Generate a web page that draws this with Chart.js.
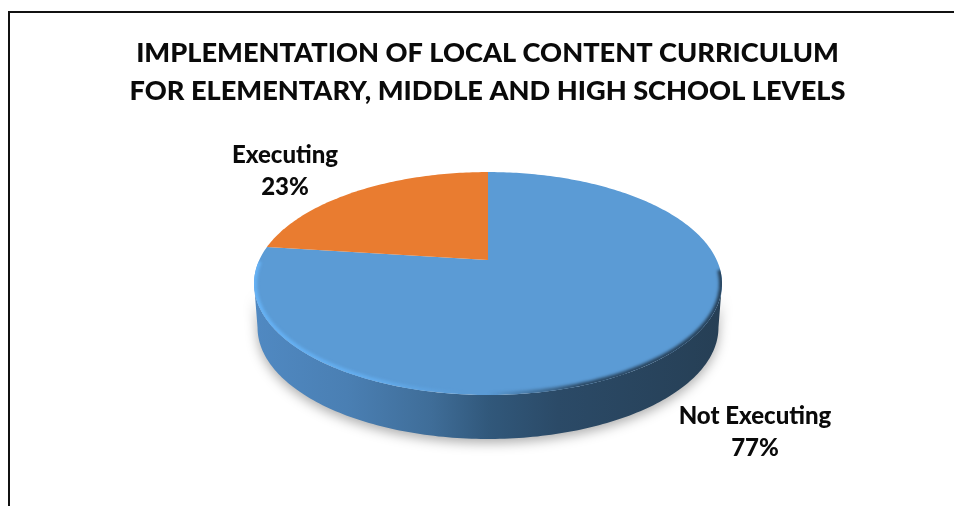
<!DOCTYPE html>
<html>
<head>
<meta charset="utf-8">
<title>Local content curriculum</title>
<script src="https://cdn.jsdelivr.net/npm/chart.js@4/dist/chart.umd.js"></script>
<style>
  html, body { margin: 0; padding: 0; background: #fff; overflow: hidden; }
  #wrap { position: relative; width: 954px; height: 506px; }
  #frame { position: absolute; left: 8px; top: 11px; right: 0; bottom: 0; border-left: 2px solid #111; border-top: 2px solid #111; }
  canvas { position: absolute; left: 0; top: 0; }
</style>
</head>
<body>
<div id="wrap">
  <div id="frame"></div>
  <canvas id="pieChart" width="954" height="506"></canvas>
</div>
<script>
var categories = ['Not Executing', 'Executing'];
var shares = [77, 23];
var sliceColors = ['#5B9BD5', '#E97C30'];
var titleLines = [
  'IMPLEMENTATION OF LOCAL CONTENT CURRICULUM',
  'FOR ELEMENTARY, MIDDLE AND HIGH SCHOOL LEVELS'
];

// tilted disc: apex position, plane radii, perspective strength, wall height
var disc = { cx: 488, cy: 260, a: 228.7, b: 106.5, k: 0.211, depth: 44 };
var labelAnchors = [{ x: 755, y: 416 }, { x: 285, y: 155 }];

// project a point of the unit disc onto the screen
function project(u, v, drop, shrink) {
  var w = 1 - disc.k * v;
  return {
    x: disc.cx + disc.a * u / w * (shrink || 1),
    y: disc.cy + disc.b * v / w + (drop || 0)
  };
}

function traceArc(ctx, from, to, radius, drop, shrink, moveFirst) {
  var steps = Math.max(2, Math.ceil(Math.abs(to - from) * 60));
  for (var i = 0; i <= steps; i++) {
    var t = from + (to - from) * i / steps;
    var p = project(radius * Math.cos(t), radius * Math.sin(t), drop, shrink);
    if (i === 0 && moveFirst) ctx.moveTo(p.x, p.y);
    else ctx.lineTo(p.x, p.y);
  }
}

var tiltedPie = {
  id: 'tiltedPie',
  beforeDatasetDraw: function(chart) {
    var ctx = chart.ctx;
    var arcs = chart.getDatasetMeta(0).data;
    var edge = Math.asin(disc.k);

    // wall under the front edge, with its soft drop shadow
    var wall = ctx.createLinearGradient(254, 0, 722, 0);
    wall.addColorStop(0, '#5089c2');
    wall.addColorStop(0.2, '#4a7fb3');
    wall.addColorStop(0.38, '#3f6d98');
    wall.addColorStop(0.5, '#31587b');
    wall.addColorStop(0.65, '#2b4a67');
    wall.addColorStop(1, '#263f55');
    ctx.save();
    ctx.beginPath();
    traceArc(ctx, edge, Math.PI - edge, 1, 0, 1, true);
    traceArc(ctx, Math.PI - edge, edge, 1, disc.depth, 0.985, false);
    ctx.closePath();
    ctx.shadowColor = 'rgba(0,0,0,0.32)';
    ctx.shadowBlur = 12;
    ctx.shadowOffsetY = 4;
    ctx.fillStyle = wall;
    ctx.fill();
    ctx.restore();

    // top face, one path per slice from the angles the controller computed
    arcs.forEach(function(arc) {
      var props = arc.getProps(['startAngle', 'endAngle'], true);
      ctx.beginPath();
      ctx.moveTo(disc.cx, disc.cy);
      traceArc(ctx, props.startAngle, props.endAngle, 1, 0, 1, false);
      ctx.closePath();
      ctx.fillStyle = arc.options.backgroundColor;
      ctx.fill();
    });

    // bevel along the front rim: light on the left, dark on the right
    ctx.save();
    ctx.beginPath();
    traceArc(ctx, 0, Math.PI * 2, 1, 0, 1, true);
    ctx.closePath();
    ctx.clip();
    var rim = ctx.createLinearGradient(254, 0, 722, 0);
    rim.addColorStop(0, 'rgba(102,178,245,1)');
    rim.addColorStop(0.25, 'rgba(102,178,245,0.75)');
    rim.addColorStop(0.45, 'rgba(102,178,245,0)');
    rim.addColorStop(0.5, 'rgba(40,68,94,0)');
    rim.addColorStop(0.7, 'rgba(38,64,88,0.9)');
    rim.addColorStop(1, 'rgba(38,64,88,1)');
    ctx.filter = 'blur(1.4px)';
    ctx.beginPath();
    traceArc(ctx, edge - 0.12, Math.PI - edge + 0.2, 1, 0, 1, true);
    ctx.lineWidth = 6;
    ctx.strokeStyle = rim;
    ctx.stroke();
    ctx.restore();

    return false;
  },
  afterDatasetsDraw: function(chart) {
    var ctx = chart.ctx;
    ctx.save();
    ctx.font = '900 24px Lato';
    ctx.fillStyle = '#0a0a0a';
    ctx.textAlign = 'center';
    ctx.textBaseline = 'middle';
    categories.forEach(function(name, i) {
      ctx.fillText(name, labelAnchors[i].x, labelAnchors[i].y);
      ctx.fillText(shares[i] + '%', labelAnchors[i].x, labelAnchors[i].y + 32);
    });
    ctx.restore();
  }
};

var pieChart = new Chart(document.getElementById('pieChart').getContext('2d'), {
  type: 'pie',
  data: {
    labels: categories,
    datasets: [{
      data: shares,
      backgroundColor: sliceColors,
      borderWidth: 0
    }]
  },
  options: {
    responsive: false,
    animation: false,
    layout: { padding: { left: 21, top: 34, bottom: 10 } },
    plugins: {
      legend: { display: false },
      tooltip: { enabled: false },
      title: {
        display: true,
        text: titleLines,
        color: '#0a0a0a',
        font: { family: 'Lato', size: 27.2, weight: '900', lineHeight: 1.4 },
        padding: 0
      }
    }
  },
  plugins: [tiltedPie]
});
</script>
</body>
</html>
